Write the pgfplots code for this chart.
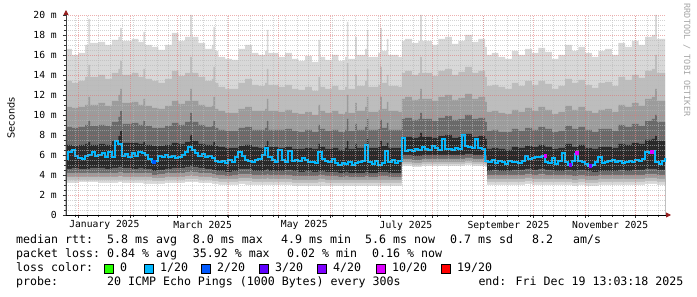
\documentclass[border=0pt]{standalone}
\usepackage{fontspec}
\setmainfont{DejaVu Sans Mono}
\newfontfamily\dvsans{DejaVu Sans}
\usepackage{pgfplots}
\pgfplotsset{compat=1.18}
\usepackage{pgfplotstable}
\usetikzlibrary{arrows.meta}

\definecolor{gA}{HTML}{D8D8D8}
\definecolor{gB}{HTML}{BDBDBD}
\definecolor{gC}{HTML}{9C9C9C}
\definecolor{gD}{HTML}{6A6A6A}
\definecolor{gE}{HTML}{2A2A2A}
\definecolor{cz}{HTML}{26FF00}
\definecolor{ca}{HTML}{00B8FF}
\definecolor{cb}{HTML}{0059FF}
\definecolor{cc}{HTML}{5E00FF}
\definecolor{cd}{HTML}{7E00FF}
\definecolor{ce}{HTML}{DD00FF}
\definecolor{cf}{HTML}{FF0000}
\definecolor{majgrid}{HTML}{E07070}
\definecolor{mingrid}{HTML}{B8B8B8}
\definecolor{arrowred}{HTML}{962020}

\newcommand\legfont{\fontsize{11.6pt}{14pt}\selectfont}
\newcommand\lgd[3]{\node[anchor=base west, inner sep=0pt, font=\legfont] at (#1pt,#2pt) {#3};}
\newcommand\lbox[2]{\filldraw[fill=#2, draw=black, line width=0.7pt] (#1pt-15.5pt,24pt) rectangle (#1pt-6.5pt,33pt);}

% x = day of 2025 (0 = Jan 1); u1..u5 upper smoke bounds, l5..l1 lower smoke bounds (ms)
\pgfplotstableread{
x u1 u2 u3 u4 u5 l5 l4 l3 l2 l1
-8 16.6 13.4 10.8 8.8 7.0 4.6 4.2 3.8 3.5 3.2
-4 16.0 13.2 10.7 8.7 6.9 4.7 4.2 3.8 3.5 3.2
0 16.2 13.4 10.8 8.8 7.0 4.6 4.2 3.8 3.5 3.3
4 17.0 13.8 11.0 9.0 7.1 4.6 4.2 3.8 3.5 3.3
6 19.6 15.0 11.8 9.4 7.3 4.6 4.2 3.8 3.5 3.3
7 17.2 13.8 11.0 8.9 7.0 4.7 4.2 3.8 3.5 3.3
12 17.3 14.0 11.2 9.0 7.1 4.7 4.2 3.8 3.5 3.2
16 17.0 13.6 10.9 8.9 7.0 4.6 4.2 3.8 3.5 3.2
20 17.5 14.2 11.4 9.3 7.4 4.7 4.2 3.8 3.5 3.2
24 17.8 14.6 12.0 9.8 7.9 4.8 4.3 3.9 3.5 3.3
25 18.7 15.4 12.6 10.4 8.4 4.8 4.3 3.9 3.5 3.3
26 17.4 14.0 11.2 9.1 7.2 4.7 4.2 3.8 3.5 3.2
32 17.6 14.2 11.3 9.2 7.2 4.6 4.2 3.8 3.5 3.2
36 17.3 13.8 11.0 9.0 7.1 4.7 4.2 3.8 3.5 3.2
39 18.3 14.6 11.6 9.4 7.3 4.6 4.2 3.8 3.5 3.1
40 17.0 13.6 10.9 8.9 7.0 4.6 4.2 3.8 3.5 3.1
44 16.8 13.4 10.7 8.7 6.9 4.4 4.0 3.7 3.4 3.1
48 16.5 13.2 10.6 8.7 6.9 4.5 4.1 3.7 3.4 3.1
52 17.0 13.6 10.9 8.9 7.0 4.6 4.2 3.8 3.5 3.2
56 18.2 14.4 11.4 9.2 7.2 4.7 4.2 3.8 3.5 3.2
60 17.4 13.9 11.1 9.0 7.1 4.7 4.2 3.8 3.5 3.2
64 17.8 14.2 11.4 9.3 7.3 4.8 4.3 3.9 3.6 3.3
67 20.0 15.8 12.6 10.2 8.0 4.9 4.4 4.0 3.6 3.3
68 17.8 14.2 11.4 9.3 7.4 4.8 4.3 3.9 3.6 3.3
72 17.2 13.8 11.0 9.0 7.1 4.7 4.2 3.8 3.5 3.2
76 16.6 13.4 10.8 8.8 7.0 4.6 4.2 3.8 3.5 3.2
80 17.0 13.6 10.9 8.9 7.0 4.5 4.1 3.7 3.4 3.1
81 18.8 14.8 11.8 9.4 7.3 4.5 4.1 3.7 3.4 3.1
82 16.4 13.2 10.6 8.7 6.9 4.4 4.0 3.7 3.4 3.1
84 15.8 12.8 10.4 8.5 6.8 4.4 4.0 3.6 3.3 3.0
88 15.6 12.6 10.2 8.4 6.7 4.3 3.9 3.6 3.3 3.0
92 15.5 12.6 10.2 8.4 6.7 4.4 4.0 3.6 3.3 3.0
96 16.6 13.2 10.6 8.7 6.9 4.6 4.1 3.7 3.4 3.1
100 17.0 13.6 10.8 8.8 7.0 4.6 4.1 3.7 3.4 3.0
104 16.2 13.0 10.4 8.5 6.8 4.4 4.0 3.6 3.3 3.0
108 16.0 12.9 10.4 8.5 6.7 4.4 4.0 3.6 3.3 3.0
112 16.4 13.2 10.6 8.7 6.9 4.5 4.0 3.6 3.3 3.0
113 18.5 14.6 11.6 9.4 7.4 4.6 4.1 3.7 3.3 3.0
114 16.2 13.0 10.4 8.5 6.8 4.4 4.0 3.6 3.3 3.0
120 15.8 12.8 10.3 8.5 6.7 4.4 4.0 3.6 3.3 3.0
124 16.2 13.0 10.5 8.6 6.8 4.5 4.0 3.6 3.3 3.0
128 15.6 12.6 10.2 8.4 6.6 4.4 3.9 3.5 3.2 2.9
132 15.4 12.5 10.1 8.3 6.6 4.3 3.9 3.5 3.2 2.9
136 15.9 12.8 10.3 8.5 6.7 4.4 3.9 3.5 3.2 2.9
140 15.3 12.4 10.0 8.3 6.6 4.3 3.9 3.5 3.2 2.9
144 17.5 13.8 11.0 9.0 7.1 4.4 4.0 3.6 3.3 2.9
145 15.8 12.8 10.4 8.6 6.8 4.4 4.0 3.6 3.3 2.9
148 15.5 12.6 10.2 8.4 6.6 4.3 3.9 3.5 3.2 2.9
152 16.0 12.9 10.4 8.5 6.7 4.3 3.9 3.5 3.2 2.9
156 15.4 12.5 10.1 8.3 6.5 4.2 3.8 3.5 3.2 2.9
160 15.8 12.8 10.3 8.5 6.7 4.3 3.9 3.5 3.2 2.9
161 19.3 15.2 12.0 9.6 7.4 4.3 3.9 3.5 3.2 2.9
162 15.6 12.6 10.2 8.4 6.6 4.2 3.8 3.5 3.2 2.9
166 17.8 14.0 11.2 9.1 7.1 4.2 3.8 3.5 3.2 2.9
167 16.0 12.9 10.4 8.5 6.7 4.2 3.8 3.5 3.2 2.9
172 16.6 13.4 10.8 8.8 7.0 4.3 3.9 3.5 3.2 2.9
173 18.5 14.6 11.8 9.6 7.6 4.3 3.9 3.5 3.2 2.9
174 15.8 12.8 10.3 8.5 6.7 4.2 3.8 3.5 3.2 2.9
180 16.2 13.0 10.5 8.6 6.8 4.3 3.9 3.5 3.2 2.9
181 18.7 14.8 11.8 9.5 7.4 4.3 3.9 3.5 3.2 2.9
182 16.4 13.2 10.6 8.7 6.9 4.3 3.9 3.5 3.2 2.9
185 17.6 14.0 11.3 9.2 7.2 4.3 3.9 3.5 3.2 2.9
186 16.0 12.9 10.4 8.5 6.7 4.2 3.8 3.5 3.2 2.9
192 15.8 12.8 10.3 8.5 6.7 4.2 3.8 3.5 3.2 2.9
194 17.4 14.2 11.6 9.6 7.8 6.0 5.6 5.3 5.1 4.9
196 17.6 14.4 11.8 9.7 7.8 6.0 5.6 5.3 5.1 4.9
200 17.2 14.0 11.5 9.5 7.7 5.9 5.5 5.2 5.0 4.8
204 17.4 14.2 11.6 9.6 7.8 5.9 5.5 5.2 5.0 4.8
205 20.0 15.8 12.6 10.2 8.2 5.9 5.5 5.2 5.0 4.8
206 17.4 14.2 11.6 9.6 7.8 6.0 5.6 5.3 5.1 4.9
212 17.0 13.9 11.4 9.4 7.7 6.0 5.6 5.3 5.1 4.9
216 17.6 14.4 11.8 9.7 7.9 6.0 5.6 5.3 5.1 4.9
220 17.8 14.6 12.0 9.9 8.0 6.0 5.6 5.3 5.1 4.9
224 17.1 14.0 11.5 9.5 7.7 6.0 5.6 5.3 5.1 4.9
228 17.4 14.3 11.7 9.6 7.8 6.0 5.6 5.3 5.1 4.9
232 18.0 14.8 12.1 10.0 8.1 6.1 5.7 5.4 5.2 5.0
236 17.3 14.2 11.6 9.6 7.8 6.0 5.6 5.3 5.1 4.9
240 17.6 14.4 11.8 9.7 7.9 6.0 5.6 5.3 5.1 4.9
244 16.8 13.8 11.3 9.3 7.6 5.9 5.5 5.2 5.0 4.8
245 16.0 12.9 10.3 8.4 6.6 4.4 4.0 3.6 3.3 3.0
248 16.2 13.0 10.4 8.5 6.7 4.5 4.0 3.6 3.3 3.0
252 15.8 12.8 10.2 8.3 6.6 4.4 4.0 3.6 3.3 3.0
256 15.6 12.6 10.1 8.3 6.5 4.4 4.0 3.6 3.3 3.0
260 16.4 13.2 10.5 8.6 6.8 4.5 4.0 3.6 3.3 3.0
264 16.0 12.9 10.3 8.4 6.7 4.5 4.0 3.6 3.3 3.0
268 16.6 13.4 10.7 8.7 6.9 4.6 4.1 3.7 3.4 3.1
272 16.2 13.0 10.4 8.5 6.8 4.5 4.0 3.6 3.3 3.0
276 16.7 13.4 10.8 8.8 7.0 4.6 4.1 3.6 3.3 3.0
280 16.3 13.1 10.5 8.6 6.8 4.5 4.0 3.6 3.3 3.0
284 15.6 12.6 10.1 8.3 6.6 4.4 4.0 3.6 3.3 3.0
288 16.0 12.9 10.3 8.4 6.7 4.4 4.0 3.6 3.3 3.0
292 17.0 13.6 10.9 8.9 7.1 4.5 4.0 3.6 3.3 3.0
296 16.4 13.2 10.5 8.6 6.8 4.4 3.9 3.5 3.2 2.9
300 16.8 13.5 10.8 8.8 7.0 4.5 4.0 3.6 3.3 3.0
304 16.2 13.0 10.4 8.5 6.7 4.4 3.9 3.5 3.2 2.9
308 15.8 12.7 10.2 8.3 6.6 4.3 3.9 3.5 3.2 2.9
312 16.4 13.2 10.5 8.6 6.8 4.4 4.0 3.6 3.3 3.0
316 16.6 13.3 10.6 8.6 6.8 4.4 4.0 3.6 3.3 3.0
320 16.0 12.9 10.3 8.4 6.7 4.4 4.0 3.6 3.3 3.0
324 17.2 13.8 11.0 9.0 7.1 4.5 4.0 3.6 3.3 3.0
328 16.8 13.5 10.8 8.8 7.0 4.4 4.0 3.6 3.3 3.0
332 17.4 14.0 11.2 9.1 7.2 4.5 4.0 3.6 3.3 3.0
336 17.0 13.7 10.9 8.9 7.1 4.5 4.0 3.6 3.3 3.0
340 17.8 14.4 11.6 9.4 7.5 4.6 4.1 3.7 3.4 3.1
344 18.0 14.6 11.8 9.6 7.6 4.6 4.1 3.7 3.4 3.1
346 20.0 16.0 12.6 10.0 7.9 4.6 4.1 3.7 3.4 3.1
347 17.6 14.2 11.4 9.3 7.4 4.5 4.0 3.6 3.3 3.0
352 17.3 14.0 11.2 9.1 7.2 4.5 4.0 3.6 3.3 3.0
}\smoke

% median rtt (ms)
\pgfplotstableread{
x y
-7 5.6
-5 6.3
-3 6.5
-1 5.9
1 5.7
3 5.6
5 5.9
7 6.0
9 6.3
11 5.9
13 6.0
15 6.2
17 5.8
19 6.3
21 5.8
23 7.4
25 7.1
27 5.9
29 6.1
31 5.8
33 6.2
35 5.9
37 6.3
39 6.2
41 6.0
43 5.6
45 5.3
47 5.4
49 5.9
51 5.8
53 6.0
55 5.8
57 5.9
59 5.7
61 5.8
63 6.0
65 6.3
67 6.8
69 6.5
71 6.2
73 5.9
75 6.1
77 5.8
79 5.9
81 5.7
83 5.4
85 5.3
87 5.4
89 5.2
91 5.5
93 5.3
95 5.8
97 6.3
99 5.9
101 5.5
103 5.4
105 5.3
107 5.5
109 5.6
111 6.0
113 6.7
115 5.8
117 5.5
119 5.3
121 6.5
123 5.5
125 5.3
127 6.4
129 5.4
131 5.5
133 5.4
135 5.7
137 5.5
139 5.3
141 5.3
143 5.2
145 6.3
147 5.6
149 5.4
151 5.3
153 5.6
155 5.2
157 5.0
159 5.2
161 5.1
163 5.3
165 5.0
167 5.2
169 5.3
171 5.4
173 7.0
175 5.3
177 5.1
179 5.4
181 5.0
183 5.2
185 6.4
187 5.3
189 5.5
191 5.2
193 5.4
195 7.7
197 6.4
199 6.5
201 6.4
203 6.6
205 6.5
207 6.8
209 6.6
211 6.5
213 6.9
215 6.7
217 6.5
219 7.6
221 6.6
223 6.6
225 6.5
227 6.7
229 6.6
231 8.0
233 6.9
235 6.8
237 6.7
239 7.6
241 6.7
243 6.6
245 5.4
247 5.3
249 5.5
251 5.2
253 5.4
255 5.3
257 5.1
259 5.4
261 5.3
263 5.3
265 5.2
267 5.4
269 5.9
271 5.6
273 5.7
275 5.8
277 5.8
279 5.9
281 5.3
283 5.2
285 5.7
287 5.1
289 5.4
291 6.2
293 5.3
295 5.0
297 5.4
299 6.1
301 5.4
303 5.3
305 5.1
307 4.9
309 5.0
311 5.3
313 5.8
315 5.2
317 5.3
319 5.4
321 5.5
323 5.3
325 5.4
327 5.2
329 5.3
331 5.4
333 5.3
335 5.5
337 5.4
339 5.6
341 6.3
343 6.2
345 6.4
347 5.3
349 5.1
351 5.4
353 5.6
}\med

\begin{document}
\begin{tikzpicture}
\useasboundingbox (0pt,0pt) rectangle (697pt,297pt);
\fill[white] (0pt,0pt) rectangle (697pt,297pt);
\begin{axis}[
  at={(66pt,82pt)}, anchor=south west,
  scale only axis, width=600pt, height=200pt,
  xmin=-7.5, xmax=352.5, ymin=0, ymax=20,
  axis on top,
  axis lines=left,
  x axis line style={black, line width=0.8pt, -{Triangle[length=5pt,width=5pt,color=arrowred]}, shorten >=-5pt},
  y axis line style={black!75, line width=0.8pt, -{Triangle[length=5pt,width=5pt,color=arrowred]}, shorten >=-5pt},
  xtick={0,31,59,90,120,151,181,212,243,273,304,334},
  xticklabels={},
  minor xtick={-2,5,12,19,26,33,40,47,54,61,68,75,82,89,96,103,110,117,124,131,138,145,152,159,166,173,180,187,194,201,208,215,222,229,236,243,250,257,264,271,278,285,292,299,306,313,320,327,334,341,348},
  ytick={0,2,...,20},
  yticklabels={0,2 m,4 m,6 m,8 m,10 m,12 m,14 m,16 m,18 m,20 m},
  minor y tick num=3,
  grid=both,
  major grid style={draw=majgrid, draw opacity=0.55, dash pattern=on 1pt off 1pt, line width=0.5pt},
  minor grid style={draw=mingrid, draw opacity=0.6, dash pattern=on 1pt off 1pt, line width=0.5pt},
  extra x ticks={15.5,74.5,135.5,196.5,258,319},
  extra x tick labels={January 2025,March 2025,May 2025,July 2025,September 2025,November 2025},
  extra x tick style={grid=none, major tick length=0pt},
  tick label style={font=\fontsize{9.7pt}{11pt}\selectfont, inner sep=0pt},
  xticklabel style={anchor=north, yshift=-5.5pt},
  yticklabel style={anchor=east, xshift=-6pt},
  tick style={black!80, line width=0.6pt},
  tick align=outside, major tick length=3pt, minor tick length=2pt,
]
\addplot[const plot, fill=gA, draw=none] table[x=x,y=u1]{\smoke} \closedcycle;
\addplot[const plot, fill=gB, draw=none] table[x=x,y=u2]{\smoke} \closedcycle;
\addplot[const plot, fill=gC, draw=none] table[x=x,y=u3]{\smoke} \closedcycle;
\addplot[const plot, fill=gD, draw=none] table[x=x,y=u4]{\smoke} \closedcycle;
\addplot[const plot, fill=gE, draw=none] table[x=x,y=u5]{\smoke} \closedcycle;
\addplot[const plot, fill=gD, draw=none] table[x=x,y=l5]{\smoke} \closedcycle;
\addplot[const plot, fill=gC, draw=none] table[x=x,y=l4]{\smoke} \closedcycle;
\addplot[const plot, fill=gB, draw=none] table[x=x,y=l3]{\smoke} \closedcycle;
\addplot[const plot, fill=gA, draw=none] table[x=x,y=l2]{\smoke} \closedcycle;
\addplot[const plot, fill=white, draw=none] table[x=x,y=l1]{\smoke} \closedcycle;
\addplot[const plot mark mid, color=ca, line width=2pt] table[x=x,y=y]{\med};
\addplot[only marks, mark=square*, mark size=1.4pt, color=cb] coordinates {(45,5.3)};
\addplot[only marks, mark=square*, mark size=1.4pt, color=ce] coordinates {(280,5.9) (299,6.2) (344,6.3)};
\addplot[only marks, mark=square*, mark size=1.4pt, color=cd] coordinates {(295,5.0) (307,4.9)};
\end{axis}

\node[rotate=90, inner sep=0pt, font=\dvsans\fontsize{9.7pt}{11pt}\selectfont] at (11pt,179pt) {Seconds};
\node[rotate=-90, inner sep=0pt, font=\fontsize{8.5pt}{9pt}\selectfont, text=black!35] at (687pt,237pt) {RRDTOOL / TOBI OETIKER};

\lgd{16}{53}{median rtt:}
\lgd{107}{53}{5.8 ms avg}
\lgd{192.7}{53}{8.0 ms max}
\lgd{281}{53}{4.9 ms min}
\lgd{365}{53}{5.6 ms now}
\lgd{450}{53}{0.7 ms sd}
\lgd{532}{53}{8.2}
\lgd{573}{53}{am/s}

\lgd{16}{39}{packet loss:}
\lgd{107}{39}{0.84 \% avg}
\lgd{192.7}{39}{35.92 \% max}
\lgd{287}{39}{0.02 \% min}
\lgd{372}{39}{0.16 \% now}

\lgd{16}{25}{loss color:}
\lbox{120}{cz}\lgd{120}{25}{0}
\lbox{160}{ca}\lgd{160}{25}{1/20}
\lbox{217}{cb}\lgd{217}{25}{2/20}
\lbox{275}{cc}\lgd{275}{25}{3/20}
\lbox{333}{cd}\lgd{333}{25}{4/20}
\lbox{392}{ce}\lgd{392}{25}{10/20}
\lbox{457}{cf}\lgd{457}{25}{19/20}

\lgd{16}{11}{probe:}
\lgd{107}{11}{20 ICMP Echo Pings (1000 Bytes) every 300s}
\lgd{478.3}{11}{end: Fri Dec 19 13:03:18 2025}
\end{tikzpicture}
\end{document}
